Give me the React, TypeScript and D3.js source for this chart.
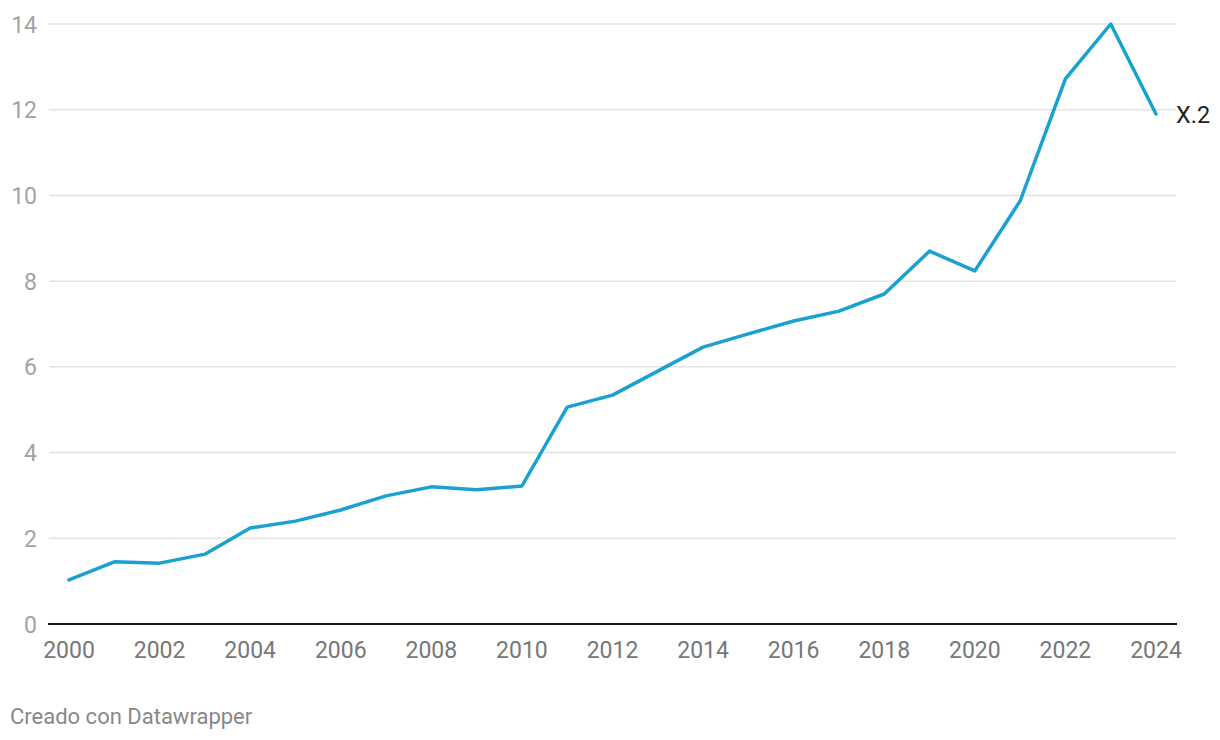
import React from "react";
import * as d3 from "d3";

const years = [2000,2001,2002,2003,2004,2005,2006,2007,2008,2009,2010,2011,2012,2013,2014,2015,2016,2017,2018,2019,2020,2021,2022,2023,2024];
const values = [1.03,1.45,1.42,1.63,2.24,2.40,2.66,2.99,3.20,3.13,3.22,5.06,5.34,5.90,6.46,6.77,7.07,7.30,7.70,8.70,8.24,9.87,12.72,14.0,11.9];
const yTicks = [0,2,4,6,8,10,12,14];
const xTicks = [2000,2002,2004,2006,2008,2010,2012,2014,2016,2018,2020,2022,2024];
const seriesLabel = "X.2";
const caption = "Creado con Datawrapper";

export default function App() {
  const W = 1220, H = 740;
  const x = d3.scaleLinear().domain([2000, 2024]).range([69, 1156]);
  const y = d3.scaleLinear().domain([0, 14]).range([624, 24]);
  const line = d3.line<number>().x((_, i) => x(years[i])).y((d) => y(d));
  const font = "Roboto, sans-serif";
  const last = values[values.length - 1];
  return (
    <svg width={W} height={H} style={{ position: "absolute", left: 0, top: 0, background: "#fff" }}>
      {yTicks.filter(t => t !== 0).map(t => (
        <line key={t} x1={49} x2={1176} y1={y(t)} y2={y(t)} stroke="#e3e3e3" strokeWidth={1.5} />
      ))}
      {yTicks.map(t => (
        <text key={"l" + t} x={37} y={y(t) + 8.5} textAnchor="end" fontFamily={font} fontSize={23} fill="#a3a3a3">{t}</text>
      ))}
      <line x1={48} x2={1177} y1={y(0)} y2={y(0)} stroke="#1a1a1a" strokeWidth={2} />
      {xTicks.map(t => (
        <text key={"x" + t} x={x(t)} y={658} textAnchor="middle" fontFamily={font} fontSize={23} fill="#777">{t}</text>
      ))}
      <path d={line(values) || ""} fill="none" stroke="#1aa1cf" strokeWidth={3.5} strokeLinejoin="round" strokeLinecap="round" />
      <text x={1176} y={y(last) + 8.5} fontFamily={font} fontSize={23.5} fill="#222">{seriesLabel}</text>
      <text x={10} y={724} fontFamily={font} fontSize={22} fill="#888">{caption}</text>
    </svg>
  );
}
